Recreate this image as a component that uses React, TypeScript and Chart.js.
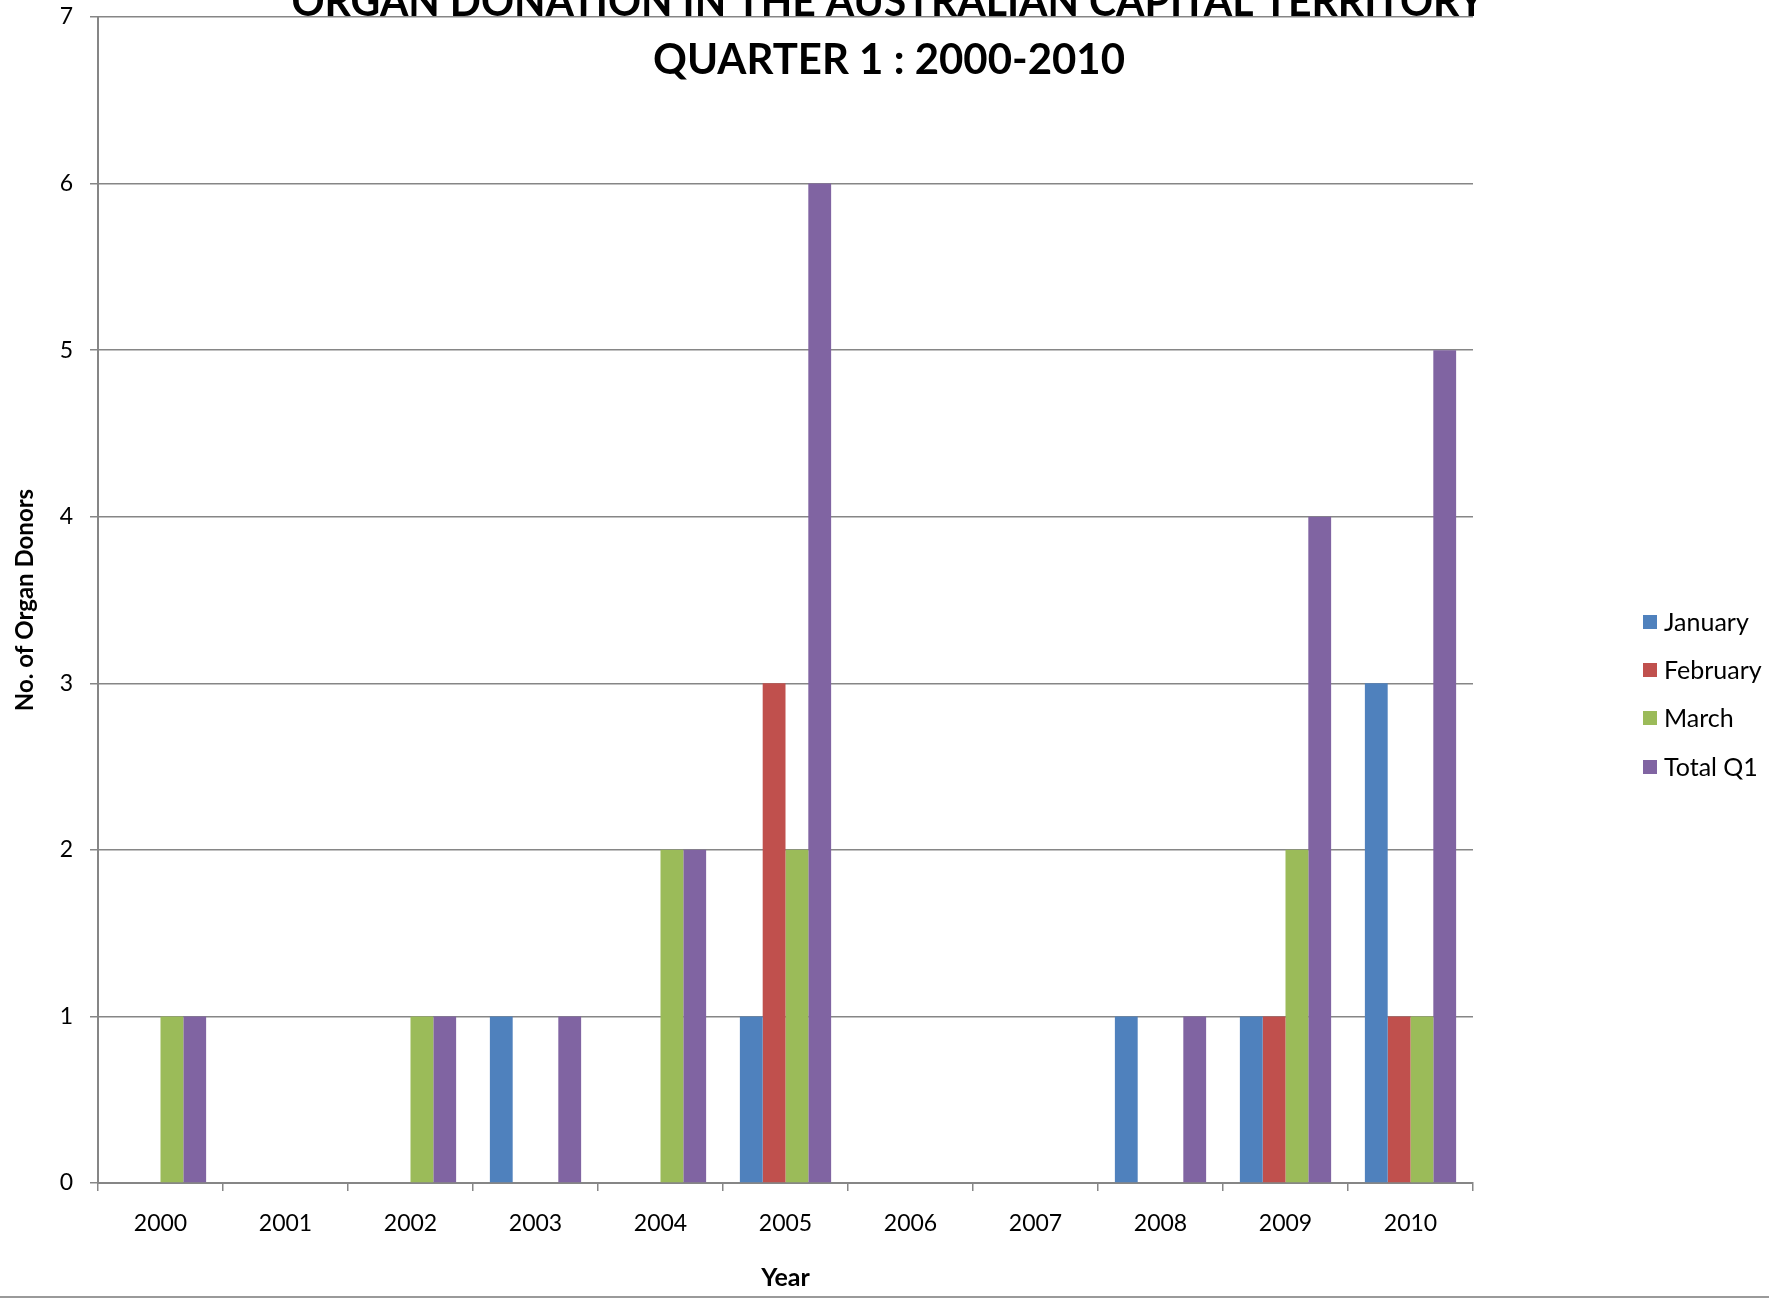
import React, { useEffect, useRef } from "react";
import { Chart, registerables } from "chart.js";

Chart.register(...registerables);

const years = ["2000", "2001", "2002", "2003", "2004", "2005", "2006", "2007", "2008", "2009", "2010"];
const january = [0, 0, 0, 1, 0, 1, 0, 0, 1, 1, 3];
const february = [0, 0, 0, 0, 0, 3, 0, 0, 0, 1, 1];
const march = [1, 0, 1, 0, 2, 2, 0, 0, 0, 2, 1];
const totalQ1 = [1, 0, 1, 1, 2, 6, 0, 0, 1, 4, 5];
const seriesNames = ["January", "February", "March", "Total Q1"];
const seriesColors = ["#4F81BD", "#C0504D", "#9BBB59", "#8064A2"];
const titleLines = ["ORGAN DONATION IN THE AUSTRALIAN CAPITAL TERRITORY", "QUARTER 1 : 2000-2010"];
const yMax = 7;
const xTitle = "Year";
const yTitle = "No. of Organ Donors";

const FONT = "Lato, 'Open Sans', sans-serif";
const W = 1769;
const H = 1299;

const decorPlugin = {
  id: "decor",
  afterDraw(chart: any) {
    const ctx = chart.ctx;
    ctx.save();
    // title
    ctx.fillStyle = "#000";
    ctx.textAlign = "center";
    ctx.textBaseline = "alphabetic";
    ctx.font = `bold 42px ${FONT}`;
    ctx.fillText(titleLines[0], 888, 16, 1193);
    ctx.fillText(titleLines[1], 889, 74, 472);
    // legend
    const ds = chart.data.datasets;
    const rowY = [622, 670, 718, 767];
    ctx.font = `25px ${FONT}`;
    ctx.textAlign = "left";
    ctx.textBaseline = "middle";
    ds.forEach((d: any, i: number) => {
      ctx.fillStyle = d.backgroundColor;
      ctx.fillRect(1643, rowY[i] - 7, 14, 14);
      ctx.fillStyle = "#000";
      ctx.fillText(d.label, 1664, rowY[i] + 1);
    });
    // bottom border line
    ctx.strokeStyle = "#9a9a9a";
    ctx.lineWidth = 2;
    ctx.beginPath();
    ctx.moveTo(0, 1297);
    ctx.lineTo(W, 1297);
    ctx.stroke();
    ctx.restore();
  },
};

export default function App() {
  const ref = useRef<HTMLCanvasElement | null>(null);
  useEffect(() => {
    document.body.style.margin = "0";
    const canvas = ref.current!;
    const datasets = [january, february, march, totalQ1].map((values, i) => ({
      label: seriesNames[i],
      data: values,
      backgroundColor: seriesColors[i],
      borderWidth: 0,
      categoryPercentage: 0.73,
      barPercentage: 1.0,
    }));
    const chart = new Chart(canvas, {
      type: "bar",
      data: { labels: years, datasets },
      options: {
        responsive: false,
        animation: false,
        devicePixelRatio: 1,
        layout: { padding: { top: 17, right: 296, left: 0, bottom: 0 } },
        plugins: {
          legend: { display: false },
          title: { display: false },
          tooltip: { enabled: false },
        },
        scales: {
          x: {
            afterFit(scale: any) {
              scale.height = 116;
              scale.paddingLeft = 0;
              scale.paddingRight = 0;
            },
            grid: {
              display: true,
              drawOnChartArea: false,
              drawTicks: true,
              tickLength: 8,
              color: "#868686",
              lineWidth: 1.5,
              offset: true,
            },
            border: { color: "#868686", width: 2 },
            ticks: {
              color: "#000",
              font: { family: FONT, size: 23 },
              padding: 19,
              maxRotation: 0,
            },
            title: {
              display: true,
              text: xTitle,
              color: "#000",
              font: { family: FONT, size: 25, weight: "bold" },
              padding: { top: 0, bottom: 6 },
            },
          },
          y: {
            min: 0,
            max: yMax,
            afterFit(scale: any) {
              scale.width = 98;
              scale.paddingTop = 0;
              scale.paddingBottom = 0;
            },
            grid: {
              color: "#868686",
              lineWidth: 1.5,
              drawTicks: true,
              tickLength: 8,
            },
            border: { color: "#868686", width: 2 },
            ticks: {
              stepSize: 1,
              color: "#000",
              font: { family: FONT, size: 23 },
              padding: 17,
            },
            title: {
              display: true,
              text: yTitle,
              color: "#000",
              font: { family: FONT, size: 24, weight: "bold" },
              padding: { top: 11, bottom: 0 },
            },
          },
        },
      },
      plugins: [decorPlugin],
    });
    return () => chart.destroy();
  }, []);
  return (
    <div style={{ width: W, height: H, background: "#fff" }}>
      <canvas ref={ref} width={W} height={H} style={{ display: "block" }} />
    </div>
  );
}
